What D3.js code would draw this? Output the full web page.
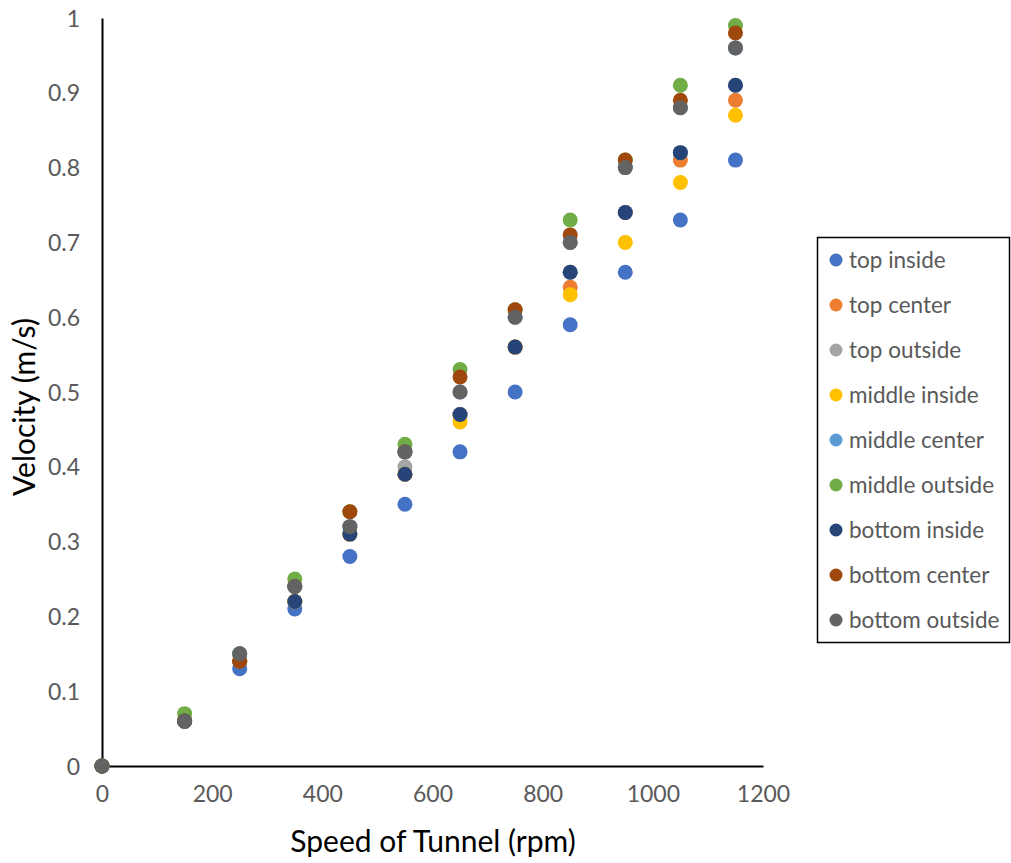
<!DOCTYPE html>
<html>
<head>
<meta charset="utf-8">
<script src="https://cdn.jsdelivr.net/npm/d3@7"></script>
<style>
  body { margin: 0; background: #fff; }
  svg { display: block; font-family: Lato, "Open Sans", sans-serif; }
</style>
</head>
<body>
<svg id="chart" width="1011" height="863"></svg>
<script>
// Dati
const speeds = [0, 150, 250, 350, 450, 550, 650, 750, 850, 950, 1050, 1150];
const seriesNames = ["top inside", "top center", "top outside", "middle inside", "middle center",
  "middle outside", "bottom inside", "bottom center", "bottom outside"];
const seriesColors = ["#4472C4", "#ED7D31", "#A5A5A5", "#FFC000", "#5B9BD5",
  "#70AD47", "#264478", "#9E480E", "#636363"];

const topInside     = [0, 0.06, 0.13, 0.21, 0.28, 0.35, 0.42, 0.50, 0.59, 0.66, 0.73, 0.81];
const topCenter     = [0, 0.06, 0.14, 0.22, 0.31, 0.39, 0.47, 0.56, 0.64, 0.74, 0.81, 0.89];
const topOutside    = [0, 0.06, 0.14, 0.22, 0.31, 0.40, 0.47, 0.56, 0.66, 0.74, 0.82, 0.91];
const middleInside  = [0, 0.06, 0.14, 0.22, 0.31, 0.39, 0.46, 0.56, 0.63, 0.70, 0.78, 0.87];
const middleCenter  = [0, 0.06, 0.15, 0.24, 0.32, 0.42, 0.50, 0.60, 0.70, 0.80, 0.88, 0.96];
const middleOutside = [0, 0.07, 0.15, 0.25, 0.34, 0.43, 0.53, 0.61, 0.73, 0.81, 0.91, 0.99];
const bottomInside  = [0, 0.06, 0.14, 0.22, 0.31, 0.39, 0.47, 0.56, 0.66, 0.74, 0.82, 0.91];
const bottomCenter  = [0, 0.06, 0.14, 0.24, 0.34, 0.42, 0.52, 0.61, 0.71, 0.81, 0.89, 0.98];
const bottomOutside = [0, 0.06, 0.15, 0.24, 0.32, 0.42, 0.50, 0.60, 0.70, 0.80, 0.88, 0.96];

const allValues = [topInside, topCenter, topOutside, middleInside, middleCenter,
  middleOutside, bottomInside, bottomCenter, bottomOutside];

const xTicks = [0, 200, 400, 600, 800, 1000, 1200];
const yTicks = [0, 0.1, 0.2, 0.3, 0.4, 0.5, 0.6, 0.7, 0.8, 0.9, 1];

const svg = d3.select("#chart");

const x = d3.scaleLinear().domain([0, 1200]).range([102, 763]);
const y = d3.scaleLinear().domain([0, 1]).range([766, 18]);

// Assi
const xAxis = d3.axisBottom(x).tickValues(xTicks).tickSize(0).tickPadding(24).tickFormat(d3.format("d"));
const yAxis = d3.axisLeft(y).tickValues(yTicks).tickSize(0).tickPadding(22).tickFormat(d => d === 0 || d === 1 ? d : d.toFixed(1));

const gx = svg.append("g").attr("transform", "translate(0," + y(0) + ")").call(xAxis);
const gy = svg.append("g").attr("transform", "translate(" + x(0) + ",0)").call(yAxis);

[gx, gy].forEach(g => {
  g.select(".domain").attr("stroke", "#000").attr("stroke-width", 2);
  g.selectAll("text").attr("fill", "#595959").attr("font-size", 23)
    .attr("font-family", "Lato, 'Open Sans', sans-serif");
});
gy.selectAll("text").attr("dy", "0.35em");
gx.selectAll("text").attr("dy", "0.5em");

// Titoli
svg.append("text")
  .attr("x", 433).attr("y", 852)
  .attr("text-anchor", "middle")
  .attr("font-size", 30)
  .text("Speed of Tunnel (rpm)");

svg.append("text")
  .attr("transform", "translate(35,407) rotate(-90)")
  .attr("text-anchor", "middle")
  .attr("font-size", 30)
  .text("Velocity (m/s)");

// Punti
allValues.forEach(function (vals, s) {
  svg.append("g")
    .selectAll("circle")
    .data(vals.map((v, i) => ({ sp: speeds[i], v: v })))
    .enter()
    .append("circle")
    .attr("cx", d => x(d.sp))
    .attr("cy", d => y(d.v))
    .attr("r", 7.5)
    .attr("fill", seriesColors[s]);
});

// Legenda
const legend = svg.append("g");
legend.append("rect")
  .attr("x", 817.5).attr("y", 237.5)
  .attr("width", 192).attr("height", 405)
  .attr("fill", "#fff").attr("stroke", "#000").attr("stroke-width", 1.5);

seriesNames.forEach(function (name, i) {
  const ly = 260 + i * 45;
  legend.append("circle")
    .attr("cx", 836).attr("cy", ly).attr("r", 6.5)
    .attr("fill", seriesColors[i]);
  legend.append("text")
    .attr("x", 849).attr("y", ly).attr("dy", "0.35em")
    .attr("font-size", 22.5).attr("fill", "#595959")
    .text(name);
});
</script>
</body>
</html>
